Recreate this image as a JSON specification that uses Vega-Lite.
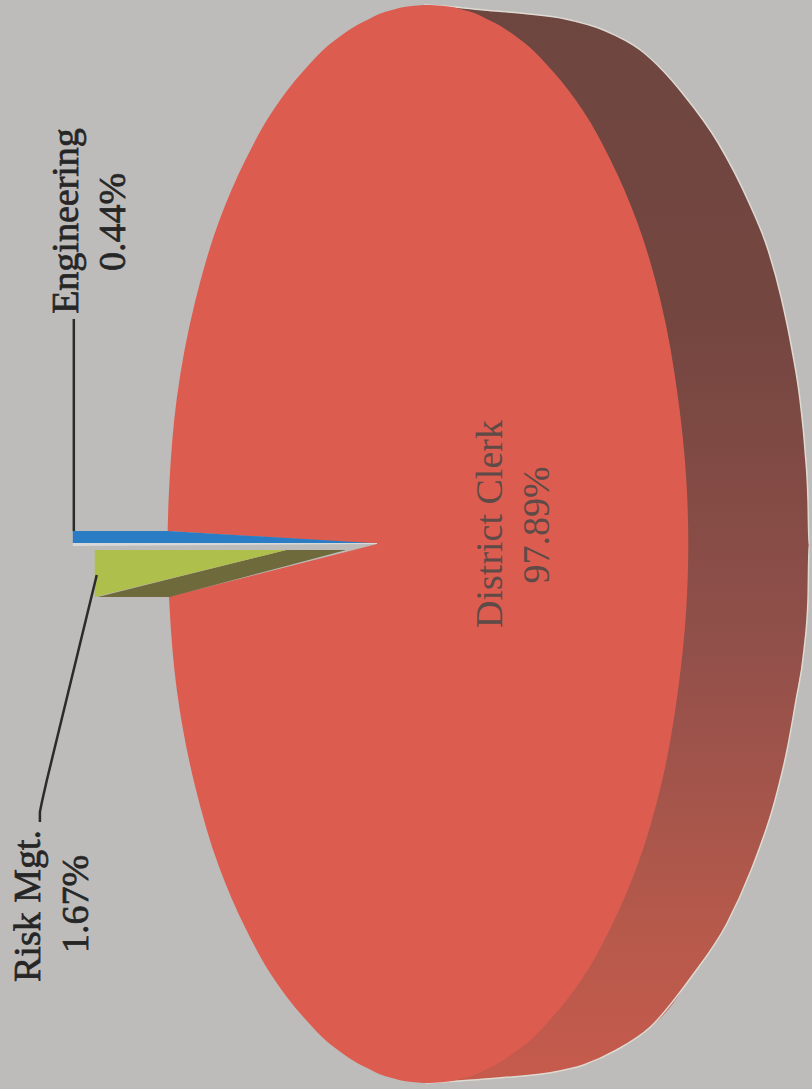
{
"$schema":"https://vega.github.io/schema/vega-lite/v6.json",
"width":812,"height":1089,"padding":0,"autosize":{"type":"fit","contains":"padding"},
"background":"#bdbcba",
"config":{"view":{"stroke":null}},
"datasets":{
"top":[{"down":5,"left":425,"right":431},{"down":6,"left":413,"right":445},{"down":10,"left":393,"right":465},{"down":20,"left":368,"right":490},{"down":40,"left":336,"right":522},{"down":70,"left":305,"right":553},{"down":110,"left":274,"right":584},{"down":160,"left":246,"right":612},{"down":220,"left":220,"right":638},{"down":300,"left":196,"right":662},{"down":400,"left":177,"right":680},{"down":480,"left":170,"right":688},{"down":544,"left":168,"right":690},{"down":608,"left":170,"right":688},{"down":688,"left":177,"right":680},{"down":788,"left":196,"right":662},{"down":868,"left":220,"right":638},{"down":928,"left":246,"right":612},{"down":978,"left":274,"right":584},{"down":1018,"left":305,"right":553},{"down":1048,"left":336,"right":522},{"down":1068,"left":368,"right":490},{"down":1078,"left":393,"right":465},{"down":1082,"left":413,"right":445},{"down":1083,"left":425,"right":431}],
"side":[{"down":5,"inner":425,"outer":425},{"down":7,"inner":425,"outer":455},{"down":10,"inner":425,"outer":485},{"down":14,"inner":425,"outer":530},{"down":19,"inner":425,"outer":567},{"down":30,"inner":425,"outer":605},{"down":50,"inner":425,"outer":642},{"down":70,"inner":425,"outer":664},{"down":93,"inner":425,"outer":684},{"down":143,"inner":425,"outer":720},{"down":203,"inner":425,"outer":751},{"down":250,"inner":425,"outer":770},{"down":297,"inner":425,"outer":783},{"down":350,"inner":425,"outer":794},{"down":400,"inner":425,"outer":802},{"down":450,"inner":425,"outer":807},{"down":500,"inner":425,"outer":810},{"down":545,"inner":425,"outer":811},{"down":600,"inner":425,"outer":810},{"down":650,"inner":425,"outer":806},{"down":700,"inner":425,"outer":798},{"down":750,"inner":425,"outer":789},{"down":800,"inner":425,"outer":777},{"down":870,"inner":425,"outer":753},{"down":923,"inner":425,"outer":729},{"down":977,"inner":425,"outer":693},{"down":1027,"inner":425,"outer":652},{"down":1050,"inner":425,"outer":618},{"down":1065,"inner":425,"outer":585},{"down":1073,"inner":425,"outer":550},{"down":1078,"inner":425,"outer":500},{"down":1083,"inner":425,"outer":427}],
"wedges":[
{"slice":"gap","across":60,"y1":531,"y2":597},{"slice":"gap","across":168,"y1":531,"y2":597},{"slice":"gap","across":378,"y1":544,"y2":544},
{"slice":"Engineering","across":73,"y1":531,"y2":543},{"slice":"Engineering","across":168,"y1":531,"y2":543},{"slice":"Engineering","across":373,"y1":543,"y2":543},
{"slice":"strip","across":73,"y1":543,"y2":546},{"slice":"strip","across":378,"y1":543,"y2":544},
{"slice":"Risk Mgt. side","across":98,"y1":597,"y2":597},{"slice":"Risk Mgt. side","across":170,"y1":579,"y2":597},{"slice":"Risk Mgt. side","across":287,"y1":550,"y2":566},{"slice":"Risk Mgt. side","across":347,"y1":550,"y2":550},
{"slice":"Risk Mgt.","across":95,"y1":550,"y2":597},{"slice":"Risk Mgt.","across":287,"y1":550,"y2":550}
],
"leaders":[
{"leader":"Engineering","step":1,"across":74,"down":531},{"leader":"Engineering","step":2,"across":74,"down":319},
{"leader":"Risk Mgt.","step":1,"across":97,"down":575},{"leader":"Risk Mgt.","step":2,"across":47,"down":780},{"leader":"Risk Mgt.","step":3,"across":42,"down":802},{"leader":"Risk Mgt.","step":4,"across":40,"down":812},{"leader":"Risk Mgt.","step":5,"across":40,"down":822}
],
"labels":[
{"text":"Engineering","across":78,"down":221,"tone":"outside"},{"text":"0.44%","across":125,"down":222,"tone":"outside"},
{"text":"Risk Mgt.","across":40,"down":906,"tone":"outside"},{"text":"1.67%","across":88,"down":904,"tone":"outside"},
{"text":"District Clerk","across":503,"down":524,"tone":"inside"},{"text":"97.89%","across":550,"down":525,"tone":"inside"}
]},
"encoding":{},
"layer":[
{"data":{"name":"side"},"mark":{"type":"area","orient":"horizontal","interpolate":"monotone","fill":{"gradient":"linear","x1":0,"y1":0,"x2":0,"y2":1,"stops":[{"offset":0,"color":"#6e4640"},{"offset":0.3,"color":"#754640"},{"offset":0.6,"color":"#92504a"},{"offset":0.85,"color":"#b5594b"},{"offset":1,"color":"#c65b4d"}]}},
"encoding":{"y":{"field":"down","type":"quantitative","scale":{"domain":[0,1089],"reverse":true,"nice":false,"zero":false},"axis":null},"x":{"field":"inner","type":"quantitative","scale":{"domain":[0,812],"nice":false,"zero":false},"axis":null},"x2":{"field":"outer"}}},
{"data":{"name":"side"},"mark":{"type":"line","orient":"horizontal","interpolate":"monotone","stroke":"#dedad2","strokeWidth":1.5},
"encoding":{"y":{"field":"down","type":"quantitative","scale":{"domain":[0,1089],"reverse":true,"nice":false,"zero":false},"axis":null},"x":{"field":"outer","type":"quantitative","scale":{"domain":[0,812],"nice":false,"zero":false},"axis":null},"order":{"field":"down"}}},
{"data":{"name":"top"},"mark":{"type":"area","orient":"horizontal","interpolate":"monotone","color":"#dc5d50"},
"encoding":{"y":{"field":"down","type":"quantitative","scale":{"domain":[0,1089],"reverse":true,"nice":false,"zero":false},"axis":null},"x":{"field":"left","type":"quantitative","scale":{"domain":[0,812],"nice":false,"zero":false},"axis":null},"x2":{"field":"right"}}},
{"data":{"name":"wedges"},"mark":{"type":"area","orient":"vertical"},
"encoding":{"detail":{"field":"slice"},"x":{"field":"across","type":"quantitative","scale":{"domain":[0,812],"nice":false,"zero":false},"axis":null},"y":{"field":"y1","type":"quantitative","scale":{"domain":[0,1089],"reverse":true,"nice":false,"zero":false},"axis":null},"y2":{"field":"y2"},
"color":{"field":"slice","type":"nominal","legend":null,"sort":null,"scale":{"domain":["gap","Engineering","strip","Risk Mgt. side","Risk Mgt."],"range":["#bdbcba","#2a7cc4","#d8d8d6","#6f6a3c","#aebf4c"]}}}},
{"data":{"name":"leaders"},"mark":{"type":"line","color":"#2b2b2b","strokeWidth":2.5},
"encoding":{"detail":{"field":"leader"},"order":{"field":"step"},"x":{"field":"across","type":"quantitative","scale":{"domain":[0,812],"nice":false,"zero":false},"axis":null},"y":{"field":"down","type":"quantitative","scale":{"domain":[0,1089],"reverse":true,"nice":false,"zero":false},"axis":null}}},
{"data":{"name":"labels"},"transform":[{"filter":"datum.tone === 'outside'"}],"mark":{"type":"text","angle":270,"align":"center","baseline":"alphabetic","font":"Liberation Serif","fontSize":38,"color":"#262626","stroke":"#262626","strokeWidth":0.7},
"encoding":{"text":{"field":"text"},"x":{"field":"across","type":"quantitative","scale":{"domain":[0,812],"nice":false,"zero":false},"axis":null},"y":{"field":"down","type":"quantitative","scale":{"domain":[0,1089],"reverse":true,"nice":false,"zero":false},"axis":null}}},
{"data":{"name":"labels"},"transform":[{"filter":"datum.tone === 'inside'"}],"mark":{"type":"text","angle":270,"align":"center","baseline":"alphabetic","font":"Liberation Serif","fontSize":38,"color":"#5e4a46"},
"encoding":{"text":{"field":"text"},"x":{"field":"across","type":"quantitative","scale":{"domain":[0,812],"nice":false,"zero":false},"axis":null},"y":{"field":"down","type":"quantitative","scale":{"domain":[0,1089],"reverse":true,"nice":false,"zero":false},"axis":null}}}
]
}
